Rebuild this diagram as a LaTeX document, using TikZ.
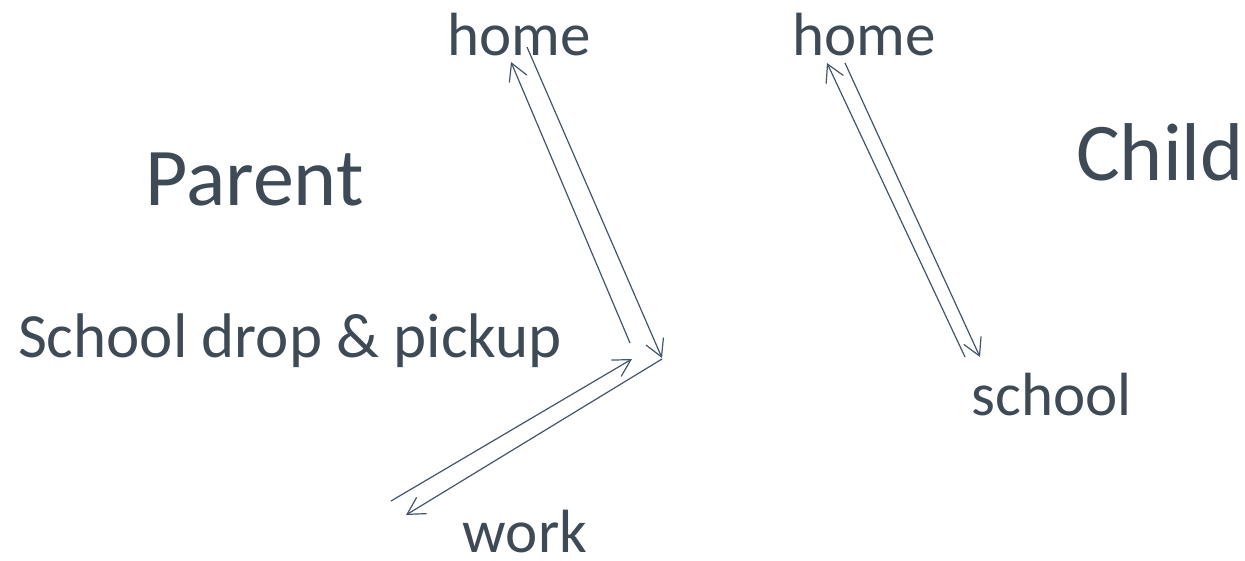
\documentclass[tikz,border=0pt]{standalone}
\usepackage{fontspec}
\setmainfont{Carlito}
\usetikzlibrary{arrows.meta}
\definecolor{inktext}{HTML}{3E4B56}
\definecolor{inkline}{HTML}{44546A}
\tikzset{
  lbl/.style={inner sep=0pt, anchor=base, text=inktext, font=\fontsize{61}{70}\selectfont},
  big/.style={inner sep=0pt, anchor=base, text=inktext, font=\fontsize{82}{92}\selectfont},
  trip/.style={draw=inkline, line width=1.2pt, -{Straight Barb[length=17pt,width=19pt]}}
}
\begin{document}
\begin{tikzpicture}[x=1pt,y=-1pt]
\useasboundingbox (0,0) rectangle (1245,560);

% labels
\node[lbl] (homeP) at (519,55) {home};
\node[lbl] (homeC) at (864,55) {home};
\node[big] (parent) at (254.5,205) {Parent};
\node[big] (child) at (1160,180) {Child};
\node[lbl, font=\fontsize{63}{72}\selectfont] (drop) at (290,357) {School drop \& pickup};
\node[lbl] (school) at (1052,415) {school};
\node[lbl] (work) at (525,552) {work};

% trip end points
\coordinate (pA1) at (630,343);
\coordinate (pA2) at (511,62);
\coordinate (pB1) at (527,47);
\coordinate (pB2) at (662,358);
\coordinate (wA1) at (391,501);
\coordinate (wA2) at (632,359);
\coordinate (wB1) at (662,359);
\coordinate (wB2) at (406,515);
\coordinate (cA1) at (965,357);
\coordinate (cA2) at (827,63);
\coordinate (cB1) at (845,63);
\coordinate (cB2) at (980,357);

% parent: home <-> pickup point
\draw[trip] (pA1) -- (pA2);
\draw[trip] (pB1) -- (pB2);
% parent: pickup point <-> work
\draw[trip] (wA1) -- (wA2);
\draw[trip] (wB1) -- (wB2);
% child: home <-> school
\draw[trip] (cA1) -- (cA2);
\draw[trip] (cB1) -- (cB2);
\end{tikzpicture}
\end{document}
